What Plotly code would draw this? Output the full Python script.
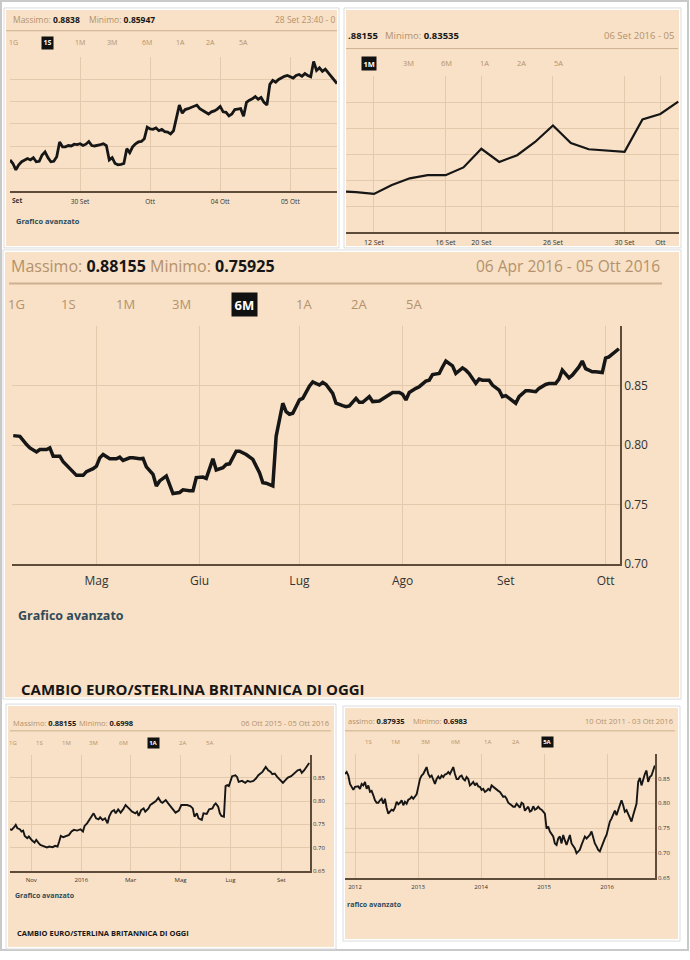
import pandas as pd
import plotly.graph_objects as go

W, H = 690, 960
FONT = "Open Sans"
BEIGE = "#F8E1C6"
GRID = "#E4CAAC"
AXIS = "#5E4B3A"
TAN = "#B4916D"
RULE = "#CDB08F"
TICK = "#333333"
LINK = "#2F4B5B"
INK = "#161616"

####################################################################
# DATA - EUR/GBP
####################################################################
# 1S: hourly, 29 Set 00:00 - 05 Ott 16:00 (weekdays only)
rate_1s = [
    0.8620, 0.8612, 0.8598, 0.8609, 0.8616, 0.8620, 0.8623, 0.8620, 0.8625, 0.8616,
    0.8617, 0.8631, 0.8638, 0.8625, 0.8616, 0.8617, 0.8627, 0.8660, 0.8649, 0.8649,
    0.8652, 0.8651, 0.8655, 0.8654, 0.8656, 0.8652, 0.8655, 0.8661, 0.8652, 0.8651,
    0.8652, 0.8654, 0.8656, 0.8652, 0.8620, 0.8625, 0.8612, 0.8609, 0.8610, 0.8612,
    0.8645, 0.8636, 0.8649, 0.8656, 0.8660, 0.8661, 0.8667, 0.8693, 0.8689, 0.8688,
    0.8691, 0.8685, 0.8688, 0.8683, 0.8682, 0.8678, 0.8685, 0.8711, 0.8742, 0.8724,
    0.8732, 0.8734, 0.8737, 0.8739, 0.8742, 0.8734, 0.8729, 0.8726, 0.8722, 0.8727,
    0.8729, 0.8733, 0.8739, 0.8727, 0.8726, 0.8718, 0.8722, 0.8732, 0.8733, 0.8734,
    0.8717, 0.8748, 0.8753, 0.8756, 0.8761, 0.8755, 0.8759, 0.8748, 0.8742, 0.8788,
    0.8797, 0.8793, 0.8799, 0.8803, 0.8806, 0.8808, 0.8805, 0.8802, 0.8808, 0.8810,
    0.8806, 0.8812, 0.8808, 0.8805, 0.8839, 0.8819, 0.8825, 0.8817, 0.8822, 0.8814,
    0.8808, 0.8799, 0.8790,
]
ticks_1s = ["2016-09-30", "2016-10-03", "2016-10-04", "2016-10-05"]
labels_1s = ["30 Set", "Ott", "04 Ott", "05 Ott"]

# 1M: daily closes
dates_1m = ["2016-09-08", "2016-09-09", "2016-09-12", "2016-09-13", "2016-09-14",
            "2016-09-15", "2016-09-16", "2016-09-19", "2016-09-20", "2016-09-21",
            "2016-09-22", "2016-09-23", "2016-09-26", "2016-09-27", "2016-09-28",
            "2016-09-29", "2016-09-30", "2016-10-03", "2016-10-04", "2016-10-05"]
rate_1m = [0.8457, 0.8454, 0.8447, 0.8481, 0.8507, 0.8519, 0.8519, 0.8549, 0.8621, 0.8570,
           0.8596, 0.8647, 0.8711, 0.8643, 0.8619, 0.8614, 0.8609, 0.8734, 0.8755, 0.8803]
ticks_1m = ["2016-09-12", "2016-09-16", "2016-09-20", "2016-09-26", "2016-09-30", "2016-10-04"]
labels_1m = ["12 Set", "16 Set", "20 Set", "26 Set", "30 Set", "Ott"]

# 6M
dates_6m = [
    "2016-04-06", "2016-04-08", "2016-04-10", "2016-04-11", "2016-04-13", "2016-04-14",
    "2016-04-16", "2016-04-17", "2016-04-18", "2016-04-20", "2016-04-21", "2016-04-22",
    "2016-04-24", "2016-04-25", "2016-04-27", "2016-04-28", "2016-04-30", "2016-05-01",
    "2016-05-02", "2016-05-03", "2016-05-05", "2016-05-07", "2016-05-08", "2016-05-09",
    "2016-05-11", "2016-05-12", "2016-05-14", "2016-05-15", "2016-05-16", "2016-05-18",
    "2016-05-19", "2016-05-20", "2016-05-22", "2016-05-23", "2016-05-24", "2016-05-26",
    "2016-05-27", "2016-05-29", "2016-05-30", "2016-05-31", "2016-06-02", "2016-06-03",
    "2016-06-05", "2016-06-06", "2016-06-08", "2016-06-09", "2016-06-10", "2016-06-12",
    "2016-06-13", "2016-06-15", "2016-06-16", "2016-06-17", "2016-06-19", "2016-06-20",
    "2016-06-21", "2016-06-23", "2016-06-24", "2016-06-26", "2016-06-27", "2016-06-28",
    "2016-06-29", "2016-07-01", "2016-07-02", "2016-07-04", "2016-07-05", "2016-07-07",
    "2016-07-08", "2016-07-09", "2016-07-11", "2016-07-12", "2016-07-14", "2016-07-15",
    "2016-07-16", "2016-07-18", "2016-07-19", "2016-07-20", "2016-07-22", "2016-07-23",
    "2016-07-25", "2016-07-26", "2016-07-28", "2016-07-29", "2016-07-31", "2016-08-01",
    "2016-08-02", "2016-08-03", "2016-08-05", "2016-08-06", "2016-08-08", "2016-08-09",
    "2016-08-10", "2016-08-12", "2016-08-13", "2016-08-14", "2016-08-16", "2016-08-17",
    "2016-08-19", "2016-08-20", "2016-08-21", "2016-08-23", "2016-08-24", "2016-08-25",
    "2016-08-27", "2016-08-28", "2016-08-30", "2016-08-31", "2016-09-01", "2016-09-03",
    "2016-09-04", "2016-09-05", "2016-09-07", "2016-09-08", "2016-09-10", "2016-09-11",
    "2016-09-13", "2016-09-14", "2016-09-16", "2016-09-17", "2016-09-18", "2016-09-20",
    "2016-09-21", "2016-09-23", "2016-09-24", "2016-09-25", "2016-09-27", "2016-09-28",
    "2016-09-30", "2016-10-01", "2016-10-02", "2016-10-05",
]
rate_6m = [
    0.8081, 0.8075, 0.8006, 0.7978, 0.7944, 0.7964, 0.7964, 0.7978, 0.7908, 0.7908,
    0.7861, 0.7833, 0.7769, 0.7747, 0.7747, 0.7778, 0.7803, 0.7825, 0.7894, 0.7922,
    0.7886, 0.7886, 0.7900, 0.7872, 0.7894, 0.7894, 0.7886, 0.7889, 0.7819, 0.7756,
    0.7658, 0.7700, 0.7742, 0.7664, 0.7594, 0.7603, 0.7625, 0.7617, 0.7617, 0.7728,
    0.7733, 0.7722, 0.7886, 0.7792, 0.7811, 0.7839, 0.7844, 0.7950, 0.7950, 0.7922,
    0.7900, 0.7881, 0.7769, 0.7686, 0.7681, 0.7658, 0.8075, 0.8353, 0.8283, 0.8261,
    0.8269, 0.8381, 0.8394, 0.8497, 0.8533, 0.8506, 0.8528, 0.8511, 0.8436, 0.8353,
    0.8333, 0.8325, 0.8331, 0.8394, 0.8361, 0.8361, 0.8408, 0.8367, 0.8372, 0.8389,
    0.8428, 0.8444, 0.8444, 0.8428, 0.8381, 0.8444, 0.8478, 0.8492, 0.8539, 0.8547,
    0.8594, 0.8603, 0.8658, 0.8708, 0.8667, 0.8603, 0.8650, 0.8631, 0.8603, 0.8520,
    0.8556, 0.8547, 0.8547, 0.8506, 0.8464, 0.8408, 0.8417, 0.8372, 0.8353, 0.8408,
    0.8458, 0.8458, 0.8450, 0.8478, 0.8511, 0.8519, 0.8519, 0.8556, 0.8631, 0.8567,
    0.8589, 0.8658, 0.8708, 0.8644, 0.8617, 0.8617, 0.8611, 0.8733, 0.8742, 0.8811,
]
ticks_6m = ["2016-05-01", "2016-06-01", "2016-07-01", "2016-08-01", "2016-09-01", "2016-10-01"]
labels_6m = ["Mag", "Giu", "Lug", "Ago", "Set", "Ott"]

# 1A: days after 06 Ott 2015
days_1a = [0, 2, 5, 7, 9, 12, 14, 16, 18, 21, 23, 25, 27, 30, 32, 35, 37, 40, 43, 45,
           48, 52, 55, 58, 60, 62, 65, 68, 72, 75, 78, 82, 86, 89, 91, 94, 97, 100, 102, 105,
           108, 110, 113, 116, 119, 121, 124, 127, 129, 132, 135, 138, 141, 145, 149, 153, 155, 157, 160, 163,
           165, 169, 171, 174, 178, 181, 184, 186, 190, 193, 196, 199, 202, 206, 209, 212, 216, 220, 223, 225,
           228, 230, 234, 236, 240, 243, 247, 249, 251, 254, 256, 258, 260, 261, 263, 265, 267, 269, 271, 275,
           277, 279, 283, 287, 290, 293, 297, 300, 303, 308, 312, 315, 318, 320, 323, 326, 330, 333, 336, 339,
           343, 346, 349, 351, 354, 356, 359, 361, 365]
rate_1a = [0.7393, 0.7379, 0.7436, 0.7486, 0.7414, 0.7393, 0.7343, 0.7364, 0.7250, 0.7200,
           0.7236, 0.7179, 0.7150, 0.7107, 0.7164, 0.7093, 0.7057, 0.7036, 0.7021, 0.7000,
           0.7021, 0.7007, 0.7036, 0.7021, 0.7129, 0.7250, 0.7221, 0.7250, 0.7271, 0.7343,
           0.7379, 0.7364, 0.7393, 0.7343, 0.7464, 0.7521, 0.7593, 0.7664, 0.7736, 0.7629,
           0.7607, 0.7650, 0.7593, 0.7629, 0.7521, 0.7664, 0.7771, 0.7807, 0.7736, 0.7821,
           0.7750, 0.7821, 0.7914, 0.7843, 0.7771, 0.7736, 0.7771, 0.7679, 0.7807, 0.7843,
           0.7771, 0.7843, 0.7914, 0.7950, 0.8000, 0.8071, 0.7986, 0.7964, 0.8021, 0.7950,
           0.7879, 0.7821, 0.7750, 0.7793, 0.7914, 0.7914, 0.7914, 0.7893, 0.7843, 0.7664,
           0.7736, 0.7629, 0.7593, 0.7736, 0.7721, 0.7821, 0.7843, 0.7914, 0.7950, 0.7879,
           0.7736, 0.7679, 0.7664, 0.7664, 0.8321, 0.8343, 0.8321, 0.8414, 0.8536, 0.8557,
           0.8521, 0.8414, 0.8436, 0.8393, 0.8436, 0.8414, 0.8436, 0.8486, 0.8557, 0.8629,
           0.8736, 0.8664, 0.8629, 0.8579, 0.8593, 0.8521, 0.8450, 0.8393, 0.8450, 0.8507,
           0.8536, 0.8579, 0.8629, 0.8664, 0.8679, 0.8607, 0.8664, 0.8721, 0.8821]
ticks_1a = ["2015-11-01", "2016-01-01", "2016-03-01", "2016-05-01", "2016-07-01", "2016-09-01"]
labels_1a = ["Nov", "2016", "Mar", "Mag", "Lug", "Set"]

# 5A: evenly spaced readings, 04 Nov 2011 - 03 Ott 2016
rate_5a = [
    0.859, 0.863, 0.856, 0.839, 0.833, 0.827, 0.833, 0.834, 0.834, 0.829,
    0.839, 0.836, 0.843, 0.829, 0.836, 0.823, 0.825, 0.816, 0.806, 0.801,
    0.801, 0.806, 0.809, 0.799, 0.809, 0.791, 0.779, 0.783, 0.787, 0.785,
    0.791, 0.803, 0.798, 0.801, 0.806, 0.796, 0.803, 0.799, 0.807, 0.809,
    0.813, 0.809, 0.814, 0.818, 0.833, 0.849, 0.856, 0.859, 0.866, 0.873,
    0.859, 0.853, 0.856, 0.849, 0.839, 0.849, 0.854, 0.849, 0.856, 0.853,
    0.858, 0.859, 0.863, 0.859, 0.867, 0.873, 0.859, 0.849, 0.849, 0.854,
    0.856, 0.849, 0.846, 0.853, 0.849, 0.836, 0.839, 0.843, 0.836, 0.841,
    0.834, 0.833, 0.827, 0.829, 0.823, 0.825, 0.829, 0.826, 0.836, 0.833,
    0.829, 0.827, 0.825, 0.823, 0.819, 0.813, 0.814, 0.809, 0.801, 0.799,
    0.796, 0.793, 0.793, 0.799, 0.796, 0.791, 0.801, 0.799, 0.785, 0.789,
    0.793, 0.783, 0.785, 0.794, 0.787, 0.789, 0.793, 0.789, 0.787, 0.783,
    0.779, 0.749, 0.753, 0.743, 0.739, 0.733, 0.719, 0.716, 0.729, 0.733,
    0.719, 0.736, 0.725, 0.716, 0.726, 0.736, 0.719, 0.713, 0.709, 0.699,
    0.703, 0.706, 0.716, 0.723, 0.733, 0.729, 0.733, 0.736, 0.743, 0.729,
    0.719, 0.713, 0.706, 0.703, 0.713, 0.719, 0.729, 0.736, 0.753, 0.763,
    0.769, 0.779, 0.785, 0.776, 0.786, 0.793, 0.806, 0.796, 0.783, 0.786,
    0.779, 0.769, 0.763, 0.776, 0.786, 0.799, 0.843, 0.851, 0.836, 0.849,
    0.859, 0.866, 0.843, 0.853, 0.856, 0.866, 0.876,
]
ticks_5a = ["2012-01-01", "2013-01-01", "2014-01-01", "2015-01-01", "2016-01-01"]
labels_5a = ["2012", "2013", "2014", "2015", "2016"]

BUTTONS = ["1G", "1S", "1M", "3M", "6M", "1A", "2A", "5A"]

####################################################################
# helpers (pixel -> paper)
####################################################################
def X(v):
    return v / W


def Y(v):
    return 1 - v / H


shapes = []
annotations = []


def rect(x0, y0, x1, y1, fill="rgba(0,0,0,0)", line=None, lw=0):
    shapes.append(dict(type="rect", xref="paper", yref="paper", layer="below",
                       x0=X(x0), x1=X(x1), y0=Y(y1), y1=Y(y0), fillcolor=fill,
                       line=dict(color=line or "rgba(0,0,0,0)", width=lw)))


def rule(x0, x1, y, lw):
    shapes.append(dict(type="line", xref="paper", yref="paper", layer="below",
                       x0=X(x0), x1=X(x1), y0=Y(y), y1=Y(y),
                       line=dict(color=RULE, width=lw)))


def text(s, x, y, size, color=INK, anchor="left", **kw):
    annotations.append(dict(text=s, x=X(x), y=Y(y), xref="paper", yref="paper",
                            xanchor=anchor, yanchor="middle", showarrow=False,
                            font=dict(family=FONT, size=size, color=color), **kw))


def stat(label, value, x, y, size):
    lab = f"<span style='color:{TAN}'>{label}</span> " if label else ""
    text(f"{lab}<b>{value}</b>", x, y, size)


def buttons(labels, xs, y, size, active):
    for lab, x in zip(labels, xs):
        if lab == active:
            text(f"<b>{lab}</b>", x, y, size, color="white", anchor="center",
                 bgcolor="#111111", borderpad=max(1, size * 0.2))
        else:
            text(lab, x, y, size, color=TAN, anchor="center")


def xaxis(dom, rng, tv, tt, size, breaks=False):
    ax = dict(domain=[X(dom[0]), X(dom[1])], type="date", range=rng,
              tickvals=tv, ticktext=tt, showgrid=True, gridcolor=GRID, gridwidth=1,
              showline=True, linecolor=AXIS, linewidth=1.5, zeroline=False,
              ticks="outside", ticklen=max(2, size * 0.4), tickcolor="rgba(0,0,0,0)",
              tickfont=dict(family=FONT, size=size, color=TICK), fixedrange=True)
    if breaks:
        ax["rangebreaks"] = [dict(bounds=["sat", "mon"])]
    return ax


def yaxis(dom, rng, tv, size=None, tt=None):
    ax = dict(domain=[Y(dom[1]), Y(dom[0])], range=rng, tickvals=tv,
              showgrid=True, gridcolor=GRID, gridwidth=1, zeroline=False, fixedrange=True)
    if size:
        ax.update(side="right", showline=True, linecolor=AXIS, linewidth=1.5, ticks="",
                  ticktext=tt or [f"{v:.2f}" for v in tv],
                  tickfont=dict(family=FONT, size=size, color=TICK))
    else:
        ax["showticklabels"] = False
    return ax


####################################################################
# panels
####################################################################
rect(1, 1, 688, 958, fill="white", line="#C9C9C9", lw=2)
panels = [(6, 10, 337, 248), (346, 10, 679, 248), (5, 254, 679, 703),
          (8, 712, 334, 955), (345, 714, 678, 947)]
for p in panels:
    rect(p[0] - 2, p[1] - 2, p[2] + 2, p[3] + 2, fill="white", line="#DCDCDC", lw=1)
    rect(*p, fill=BEIGE)

# 1S
stat("Massimo:", "0.8838", 11, 20, 8.5)
stat("Minimo:", "0.85947", 87, 20, 8.5)
text("28 Set 23:40 - 0", 337, 20, 8.5, color=TAN, anchor="right")
rule(6, 337, 31, 1)
buttons(BUTTONS, [13, 47, 80, 112, 147, 180, 210, 243], 43, 7, "1S")
text("<b>Set</b>", 17, 202, 6.5, color=TICK, anchor="center")
text("<b>Grafico avanzato</b>", 14, 223, 7.5, color=LINK)

# 1M
stat(None, ".88155", 346, 36, 9.5)
stat("Minimo:", "0.83535", 383, 36, 9.5)
text("06 Set 2016 - 05", 676, 36, 9.5, color=TAN, anchor="right")
rule(346, 678, 49, 1)
buttons(BUTTONS[2:], [369, 409, 446, 484, 521, 558], 64, 7.5, "1M")

# 6M
stat("Massimo:", "0.88155", 9, 268, 16)
stat("Minimo:", "0.75925", 148, 268, 16)
text("06 Apr 2016 - 05 Ott 2016", 662, 268, 15.5, color=TAN, anchor="right")
rule(9, 662, 286, 2)
buttons(BUTTONS, [16, 68, 125, 181, 244, 304, 359, 414], 307, 13, "6M")
text("<b>Grafico avanzato</b>", 16, 621, 12.5, color=LINK)
text("<b>CAMBIO EURO/STERLINA BRITANNICA DI OGGI</b>", 19, 695, 15, color=INK)

# 1A
stat("Massimo:", "0.88155", 11, 729, 7.5)
stat("Minimo:", "0.6998", 77, 729, 7.5)
text("06 Ott 2015 - 05 Ott 2016", 331, 729, 7.5, color=TAN, anchor="right")
rule(10, 331, 737, 1)
buttons(BUTTONS, [13, 39, 66, 93, 123, 153, 182, 209], 749, 6, "1A")
text("<b>Grafico avanzato</b>", 13, 903, 7, color=LINK)
text("<b>CAMBIO EURO/STERLINA BRITANNICA DI OGGI</b>", 15, 941, 7.5, color=INK)

# 5A
stat("assimo:", "0.87935", 346, 727, 7.5)
stat("Minimo:", "0.6983", 411, 727, 7.5)
text("10 Ott 2011 - 03 Ott 2016", 675, 727, 7.5, color=TAN, anchor="right")
rule(345, 675, 737, 1)
buttons(BUTTONS[1:], [368, 395, 425, 455, 487, 515, 547], 748, 6, "5A")
text("<b>rafico avanzato</b>", 345, 912, 7, color=LINK)

####################################################################
# traces
####################################################################
hours = pd.date_range("2016-09-29 00:00", "2016-10-05 16:00", freq="h")
hours_1s = hours[hours.dayofweek < 5]
x_1a = pd.Timestamp("2015-10-06") + pd.to_timedelta(days_1a, unit="D")
x_5a = pd.date_range("2011-11-04", "2016-10-03", periods=len(rate_5a))

fig = go.Figure()
series = [
    (hours_1s, rate_1s, "x", "y", 2.8),
    (pd.to_datetime(dates_1m), rate_1m, "x2", "y2", 2.2),
    (pd.to_datetime(dates_6m), rate_6m, "x3", "y3", 3.5),
    (x_1a, rate_1a, "x4", "y4", 1.9),
    (x_5a, rate_5a, "x5", "y5", 1.9),
]
for xs, ys, xa, ya, lw in series:
    fig.add_trace(go.Scatter(x=xs, y=ys, xaxis=xa, yaxis=ya, mode="lines",
                             line=dict(color=INK, width=lw), hoverinfo="skip"))

fig.update_layout(
    width=W, height=H, autosize=False,
    margin=dict(l=0, r=0, t=0, b=0),
    paper_bgcolor="white", plot_bgcolor="rgba(0,0,0,0)",
    showlegend=False, hovermode=False,
    shapes=shapes, annotations=annotations,
    xaxis=xaxis((10, 337), ["2016-09-29 00:00", "2016-10-05 16:00"], ticks_1s, labels_1s, 6.5, True),
    yaxis=yaxis((57, 193), [0.855, 0.885], [0.860, 0.865, 0.870, 0.875, 0.880]),
    xaxis2=xaxis((346, 679), ["2016-09-08 10:30", "2016-10-05 01:00"], ticks_1m, labels_1m, 7, True),
    yaxis2=yaxis((77, 234), [0.83, 0.89], [0.84, 0.85, 0.86, 0.87, 0.88]),
    xaxis3=xaxis((12, 620), ["2016-04-05 15:00", "2016-10-05 08:00"], ticks_6m, labels_6m, 12),
    yaxis3=yaxis((329, 569), [0.70, 0.90], [0.70, 0.75, 0.80, 0.85, 0.90], 12,
                 ["0.70", "0.75", "0.80", "0.85", ""]),
    xaxis4=xaxis((10, 310), ["2015-10-06", "2016-10-06"], ticks_1a, labels_1a, 6),
    yaxis4=yaxis((761, 878), [0.65, 0.90], [0.65, 0.70, 0.75, 0.80, 0.85], 6),
    xaxis5=xaxis((345, 655), ["2011-11-04", "2016-10-04"], ticks_5a, labels_5a, 6),
    yaxis5=yaxis((760, 885), [0.65, 0.90], [0.65, 0.70, 0.75, 0.80, 0.85], 6),
)
for i in range(1, 6):
    sfx = "" if i == 1 else str(i)
    fig.layout[f"xaxis{sfx}"].anchor = f"y{sfx}"
    fig.layout[f"yaxis{sfx}"].anchor = f"x{sfx}"

# page body has a default 8px margin; drop it and keep the page exactly figure-sized
page_js = ("document.documentElement.style.overflow='hidden';"
           "document.body.style.margin='0';"
           "document.body.style.overflow='hidden';"
           "document.body.style.height='960px';")
fig.write_html("out.html", config={"displayModeBar": False}, post_script=page_js)
